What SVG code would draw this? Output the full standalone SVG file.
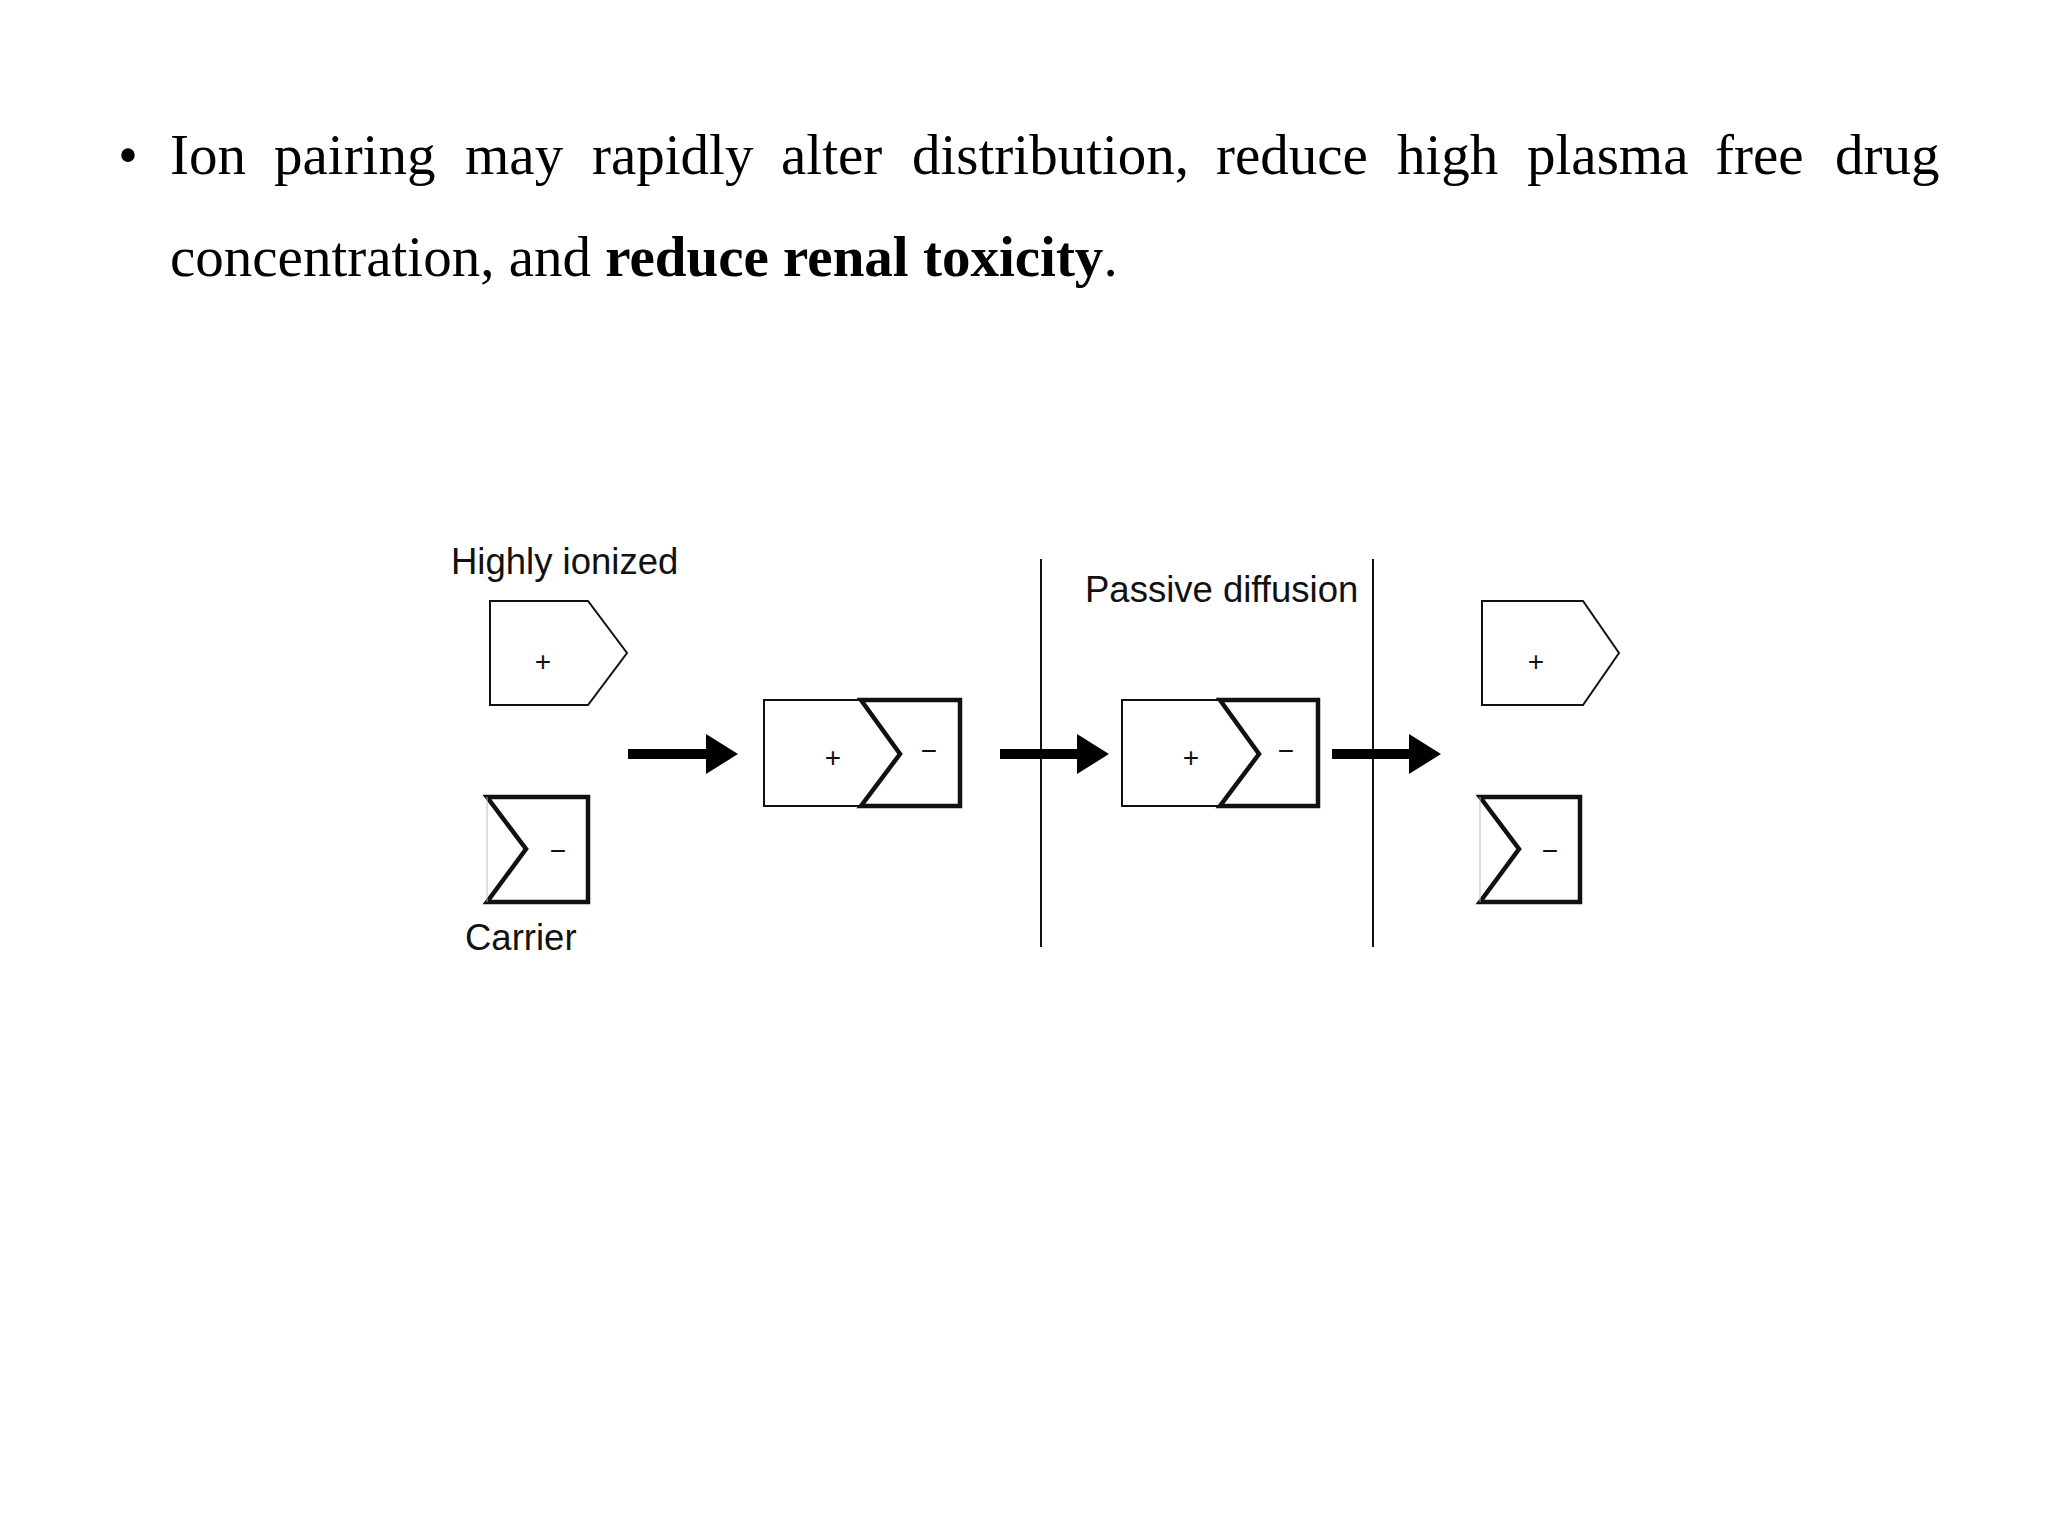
<svg xmlns="http://www.w3.org/2000/svg" width="2048" height="1536" viewBox="0 0 2048 1536">
<style>
.t{font-family:"Liberation Serif",serif;font-size:57px;fill:#000}
.l{font-family:"Liberation Sans",Arial,sans-serif;font-size:36.5px;fill:#111}
.s{font-family:"Liberation Sans",Arial,sans-serif;font-size:28px;fill:#111;text-anchor:middle}
.thin{fill:none;stroke:#111;stroke-width:2}
.thick{fill:none;stroke:#111;stroke-width:4.5}
</style>
<defs>
<marker id="ah" markerWidth="4" markerHeight="4" refX="0" refY="2" orient="auto"><path d="M0,0 L3.2,2 L0,4 Z" fill="#000"/></marker>
</defs>
<rect width="2048" height="1536" fill="#fff"/>
<g class="t">
<text x="118" y="174">•</text>
<text x="170" y="174">Ion</text><text x="274" y="174">pairing</text><text x="465" y="174">may</text><text x="592" y="174">rapidly</text><text x="781" y="174">alter</text><text x="912" y="174">distribution,</text><text x="1216" y="174">reduce</text><text x="1397" y="174">high</text><text x="1527" y="174">plasma</text><text x="1715" y="174">free</text><text x="1835" y="174">drug</text>
<text x="170" y="276">concentration, and <tspan font-weight="bold">reduce renal toxicity</tspan>.</text>
</g>
<text class="l" x="451" y="574">Highly ionized</text>
<text class="l" x="465" y="950">Carrier</text>
<text class="l" x="1085" y="602">Passive diffusion</text>
<g id="membranes"><line class="thin" x1="1041" y1="559" x2="1041" y2="947"/><line class="thin" x1="1373" y1="559" x2="1373" y2="947"/></g>
<g id="drug1"><path class="thin" d="M490,601 H588 L627,653 L588,705 H490 Z"/><text class="s" x="543" y="671">+</text></g>
<g id="carrier1"><path class="thick" d="M487,797 H588 V902 H487 L526,849 Z"/><path d="M487,797 V902" stroke="#bbb" stroke-width="1"/><text class="s" x="558" y="860">−</text></g>
<g id="pair1"><path class="thin" d="M861,700 H764 V806 H861"/><path class="thick" d="M861,700 H960 V806 H861 L900,754 Z"/><text class="s" x="833" y="767">+</text><text class="s" x="929" y="760">−</text></g>
<g id="pair2"><path class="thin" d="M1220,700 H1122 V806 H1220"/><path class="thick" d="M1220,700 H1318 V806 H1220 L1259,754 Z"/><text class="s" x="1191" y="767">+</text><text class="s" x="1286" y="760">−</text></g>
<g id="drug2"><path class="thin" d="M1482,601 H1583 L1619,653 L1583,705 H1482 Z"/><text class="s" x="1536" y="671">+</text></g>
<g id="carrier2"><path class="thick" d="M1480,797 H1580 V902 H1480 L1519,849 Z"/><path d="M1480,797 V902" stroke="#bbb" stroke-width="1"/><text class="s" x="1550" y="860">−</text></g>
<g id="connectors" stroke="#000" stroke-width="10">
<line x1="628" y1="754" x2="706" y2="754" marker-end="url(#ah)"/>
<line x1="1000" y1="754" x2="1077" y2="754" marker-end="url(#ah)"/>
<line x1="1332" y1="754" x2="1409" y2="754" marker-end="url(#ah)"/>
</g>
</svg>
